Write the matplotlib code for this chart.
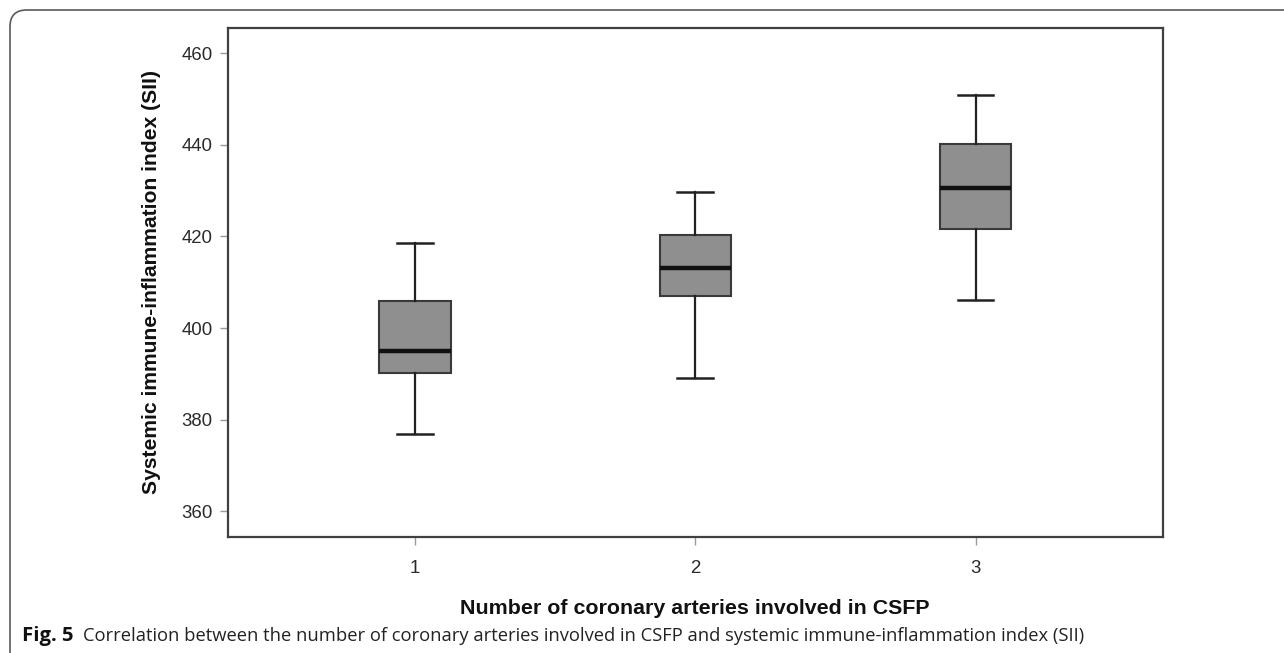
import matplotlib
matplotlib.use("Agg")
import matplotlib.pyplot as plt
from matplotlib.patches import FancyBboxPatch

# Box-plot summary per group
groups = ["1", "2", "3"]
whisker_low = [376.8, 389.0, 406.1]
q1 = [390.2, 406.9, 421.6]
median = [395.0, 413.2, 430.6]
q3 = [406.0, 420.3, 440.1]
whisker_high = [418.6, 429.8, 450.8]
y_ticks = [360, 380, 400, 420, 440, 460]

W, H, DPI = 1284, 653, 100
fig = plt.figure(figsize=(W / DPI, H / DPI), dpi=DPI)
fig.patch.set_facecolor("white")

# rounded frame around the figure panel (open to the right and bottom)
frame = FancyBboxPatch((10 / W, -0.2), 1.3, 1.2 - 10 / H,
                       boxstyle="round,pad=0,rounding_size=0.013",
                       transform=fig.transFigure, fill=False,
                       edgecolor="#5a5a5a", linewidth=1.2,
                       mutation_aspect=W / H)
fig.patches.append(frame)

left, right, top, bottom = 228, 1162.5, 28, 536.5
ax = fig.add_axes([left / W, 1 - bottom / H, (right - left) / W, (bottom - top) / H])

stats = []
for g, lo, a, m, b, hi in zip(groups, whisker_low, q1, median, q3, whisker_high):
    stats.append(dict(label=g, whislo=lo, q1=a, med=m, q3=b, whishi=hi, fliers=[]))

pos = list(range(1, len(groups) + 1))
ax.bxp(stats, positions=pos, widths=0.254, patch_artist=True, showfliers=False,
       boxprops=dict(facecolor="#8f8f8f", edgecolor="#3a3a3a", linewidth=1.5),
       medianprops=dict(color="#111111", linewidth=3.2),
       whiskerprops=dict(color="#222222", linewidth=1.6),
       capprops=dict(color="#222222", linewidth=1.8),
       capwidths=0.127)

ax.set_xlim(1 / 3, 3 + 2 / 3)
ax.set_ylim(354.5, 465.5)
ax.set_yticks(y_ticks)
ax.set_xticks(pos)
ax.set_xticklabels(groups)

for s in ax.spines.values():
    s.set_color("#404040")
    s.set_linewidth(1.6)

ax.tick_params(axis="both", direction="out", length=6, width=1.0, color="#9a9a9a",
               labelsize=13.4, labelcolor="#2a2a2a", pad=5)
ax.tick_params(axis="x", pad=11)
for lab in ax.get_xticklabels() + ax.get_yticklabels():
    lab.set_family("Liberation Sans")

ax.set_ylabel("Systemic immune-inflammation index (SII)", family="Liberation Sans",
              fontsize=15.2, fontweight="bold", color="#111111", labelpad=15)
ax.set_xlabel("Number of coronary arteries involved in CSFP", family="Liberation Sans",
              fontsize=15.4, fontweight="bold", color="#111111", labelpad=16)

# caption
cap_y = 1 - 636 / H
t1 = fig.text(22 / W, cap_y, "Fig. 5", family="Open Sans", fontweight="bold",
              fontsize=14.6, va="center", ha="left", color="#111111")
fig.canvas.draw()
bb = t1.get_window_extent()
fig.text((bb.x1 + 10) / W, cap_y,
         "Correlation between the number of coronary arteries involved in CSFP and "
         "systemic immune-inflammation index (SII)",
         family="Open Sans", fontsize=13.2, va="center", ha="left", color="#222222")

fig.savefig("out.png", dpi=DPI, facecolor="white")
